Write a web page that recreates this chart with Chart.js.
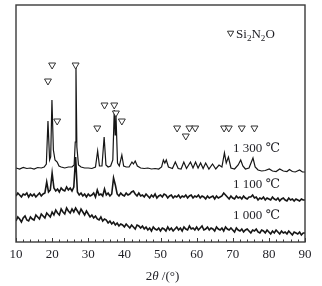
<!DOCTYPE html>
<html>
<head>
<meta charset="utf-8">
<script src="https://cdn.jsdelivr.net/npm/chart.js"></script>
<style>
  html, body { margin: 0; padding: 0; background: #fff; }
  canvas { display: block; }
</style>
</head>
<body>
<canvas id="xrdChart" width="322" height="286"></canvas>
<script>
// XRD patterns of the sample fired at 1 000 / 1 100 / 1 300 °C

// 1 300 °C pattern: [2theta, intensity]
const scan1300 = [
    [10, 74], [11, 73], [12, 74.5], [13, 73.5], [14, 74], [15, 73], [16, 74.5], [17, 74],
    [17.8, 75], [18.4, 78], [18.85, 121], [19.3, 82], [19.6, 85], [19.95, 142], [20.35, 92],
    [20.8, 82], [21.4, 80], [21.9, 76], [22.5, 75], [23.5, 74], [24.5, 75], [25.5, 75],
    [26.1, 77], [26.4, 100], [26.6, 175], [26.85, 95], [27.3, 77], [28, 75], [29, 74],
    [30, 74], [31, 73.5], [32, 75], [32.6, 91], [33.1, 76], [33.8, 76], [34.4, 105],
    [34.9, 77], [35.5, 75], [36.2, 76], [36.8, 82], [37.2, 132], [37.45, 107], [37.65, 130],
    [38.1, 79], [38.6, 76], [39.3, 87], [39.8, 76], [40.5, 75], [41.3, 75], [42.1, 80],
    [42.5, 78], [43, 81], [43.6, 76], [44.5, 74], [45.5, 73.5], [46.5, 74], [47.5, 73],
    [48.5, 73.5], [49.5, 73], [50.3, 75], [50.8, 82], [51.2, 79], [51.6, 82], [52.2, 75],
    [53.3, 73.5], [54.1, 80], [54.9, 73.5], [55.7, 73], [56.45, 80], [57.2, 73.5], [58.3, 80],
    [59.0, 74], [59.7, 80], [60.4, 74], [61.1, 79], [61.8, 73.5], [62.5, 79], [63.4, 73],
    [64.4, 78], [65.3, 73], [66.2, 77], [67.0, 75], [67.7, 89], [68.2, 79], [68.8, 85],
    [69.5, 74], [70.5, 73], [71.5, 77], [72.2, 82], [72.8, 76], [73.5, 73], [74.5, 74],
    [75.6, 84], [76.2, 75], [77, 72], [78, 71], [79, 71.5], [80.1, 73], [81, 71], [82, 70.5],
    [83, 73], [84, 71], [85, 70.5], [85.7, 72.5], [86.5, 70.5], [87.3, 70], [88.5, 72],
    [89.3, 70], [90, 70]
];

// 1 100 °C and 1 000 °C patterns, one reading every 0.5 deg from 10 to 90
const scanStart = 10;
const scanStep = 0.5;

const counts1100 = [
    46, 49, 47, 45, 48, 47, 49, 45, 48, 46,
    48, 45, 47, 49, 46, 48, 49, 60, 50, 52,
    69, 54, 51, 53, 50, 54, 52, 51, 55, 52,
    54, 51, 55, 85, 50, 47, 49, 46, 48, 45,
    48, 46, 47, 49, 45, 52, 47, 48, 46, 53,
    47, 49, 46, 48, 64, 57, 48, 46, 49, 47,
    46, 49, 47, 48, 50, 51, 48, 46, 49, 46,
    47, 45, 48, 46, 44, 47, 45, 48, 44, 46,
    47, 45, 48, 47, 44, 46, 47, 44, 46, 45,
    47, 44, 46, 45, 47, 44, 46, 47, 44, 46,
    45, 47, 44, 46, 45, 43, 46, 44, 45, 46,
    43, 46, 44, 45, 46, 49, 47, 45, 43, 46,
    44, 43, 46, 44, 45, 43, 46, 44, 43, 45,
    45, 47, 44, 45, 42, 44, 43, 45, 42, 44,
    43, 42, 45, 43, 42, 44, 41, 43, 44, 42,
    41, 44, 42, 43, 41, 43, 42, 41, 43, 42,
    42
];

const counts1000 = [
    21, 25, 23, 20, 24, 26, 22, 21, 25, 23,
    22, 27, 25, 23, 28, 26, 24, 29, 27, 25,
    30, 27, 32, 29, 27, 33, 30, 28, 34, 31,
    29, 33, 30, 34, 31, 28, 33, 30, 27, 31,
    28, 25, 27, 24, 26, 23, 22, 25, 21, 23,
    22, 19, 21, 18, 20, 17, 19, 16, 18, 17,
    15, 18, 16, 14, 17, 15, 13, 17, 16, 14,
    16, 13, 15, 12, 14, 11, 15, 13, 12, 14,
    11, 14, 13, 11, 15, 12, 14, 11, 13, 15,
    12, 14, 11, 15, 13, 12, 16, 13, 14, 12,
    15, 12, 14, 16, 12, 13, 15, 12, 14, 13,
    11, 15, 13, 12, 14, 11, 15, 13, 12, 14,
    12, 10, 14, 12, 11, 13, 10, 12, 13, 11,
    9, 12, 11, 13, 10, 9, 12, 11, 9, 12,
    10, 8, 11, 9, 12, 10, 8, 11, 9, 10,
    8, 11, 9, 7, 10, 9, 8, 10, 7, 9,
    9
];

// Si2N2O reflections marked with open triangles
const markerTheta = [18.85, 20.0, 21.4, 26.5, 32.5, 34.5, 37.2, 37.65, 39.3, 54.6, 57.0, 58.0, 59.6, 67.6, 68.9, 72.5, 76.0];
const markerLevel = [161, 177, 121, 177, 114, 137, 137, 129, 121, 114, 106, 114, 114, 114, 114, 114, 114];

// curve labels
const curveNames = ['1 300 ℃', '1 100 ℃', '1 000 ℃'];
const curveLabelLevel = [90.3, 54.3, 23.3];

const SERIF = '"Liberation Serif", "DejaVu Serif", serif';
const INK = '#1e1e24';

const toPoints = (counts) => counts.map((c, i) => ({ x: scanStart + i * scanStep, y: c }));

function drawDownTriangle(ctx, x, y, r) {
    ctx.beginPath();
    ctx.moveTo(x - r * 0.866, y - r * 0.5);
    ctx.lineTo(x + r * 0.866, y - r * 0.5);
    ctx.lineTo(x, y + r);
    ctx.closePath();
    ctx.fillStyle = '#fff';
    ctx.fill();
    ctx.stroke();
}

// draws text pieces one after another: [text, italic, subscript]
function drawRuns(ctx, runs, x, y, size) {
    runs.forEach(([text, italic, sub]) => {
        const s = sub ? size * 0.7 : size;
        ctx.font = `${italic ? 'italic ' : ''}${s}px ${SERIF}`;
        ctx.fillText(text, x, sub ? y + size * 0.2 : y);
        x += ctx.measureText(text).width;
    });
}

const annotations = {
    id: 'annotations',
    afterDatasetsDraw(chart) {
        const { ctx, chartArea: a, scales: { x, y } } = chart;
        ctx.save();

        // frame
        ctx.strokeStyle = '#3a3a3a';
        ctx.lineWidth = 1.4;
        ctx.strokeRect(a.left, a.top, a.right - a.left, a.bottom - a.top);

        // inward tick marks on the bottom axis
        ctx.lineWidth = 1;
        x.ticks.forEach(t => {
            const px = Math.round(x.getPixelForValue(t.value)) + 0.5;
            const len = t.value % 10 === 0 ? 4 : 2.5;
            ctx.beginPath();
            ctx.moveTo(px, a.bottom);
            ctx.lineTo(px, a.bottom - len);
            ctx.stroke();
        });

        // curve labels
        ctx.fillStyle = INK;
        ctx.textBaseline = 'alphabetic';
        ctx.font = `13px ${SERIF}`;
        curveNames.forEach((name, i) => {
            ctx.fillText(name, x.getPixelForValue(70.1), y.getPixelForValue(curveLabelLevel[i]));
        });

        // legend
        ctx.strokeStyle = '#333';
        ctx.lineWidth = 1;
        const lx = x.getPixelForValue(69.4);
        const ly = y.getPixelForValue(209);
        drawDownTriangle(ctx, lx, ly, 3.6);
        ctx.fillStyle = INK;
        drawRuns(ctx, [['Si'], ['2', false, true], ['N'], ['2', false, true], ['O']], lx + 5.5, ly + 5, 13);

        // axis title
        const runs = [['2'], ['θ', true], [' /(°)']];
        let w = 0;
        runs.forEach(([t, it]) => {
            ctx.font = `${it ? 'italic ' : ''}13px ${SERIF}`;
            w += ctx.measureText(t).width;
        });
        drawRuns(ctx, runs, (a.left + a.right) / 2 + 2 - w / 2, 280, 13);

        ctx.restore();
    }
};

const traceStyle = {
    showLine: true,
    borderColor: '#161616',
    pointRadius: 0,
    tension: 0,
    fill: false
};

const chart = new Chart(document.getElementById('xrdChart'), {
    type: 'scatter',
    data: {
        datasets: [
            {
                label: 'Si2N2O',
                data: markerTheta.map((t, i) => ({ x: t, y: markerLevel[i] })),
                pointStyle: 'triangle',
                rotation: 180,
                pointRadius: 4,
                borderColor: '#333',
                backgroundColor: '#fff',
                borderWidth: 1,
                showLine: false,
                order: 0
            },
            { ...traceStyle, label: '1 300 ℃', data: scan1300.map(([t, c]) => ({ x: t, y: c })), borderWidth: 1.2, order: 1 },
            { ...traceStyle, label: '1 100 ℃', data: toPoints(counts1100), borderWidth: 1.6, order: 2 },
            { ...traceStyle, label: '1 000 ℃', data: toPoints(counts1000), borderWidth: 1.6, order: 3 }
        ]
    },
    options: {
        responsive: false,
        animation: false,
        devicePixelRatio: 1,
        layout: { padding: { left: 16, right: 17, top: 5, bottom: 0 } },
        plugins: {
            legend: { display: false },
            tooltip: { enabled: false }
        },
        scales: {
            x: {
                type: 'linear',
                min: 10,
                max: 90,
                grid: { display: false, drawTicks: false },
                border: { display: false },
                ticks: {
                    stepSize: 2,
                    autoSkip: false,
                    maxRotation: 0,
                    padding: 5,
                    color: INK,
                    font: { family: SERIF, size: 13 },
                    callback: (v) => (v % 10 === 0 ? v : '')
                },
                afterFit: (scale) => { scale.height = 44; }
            },
            y: {
                display: false,
                min: 0,
                max: 237
            }
        }
    },
    plugins: [annotations]
});
</script>
</body>
</html>
